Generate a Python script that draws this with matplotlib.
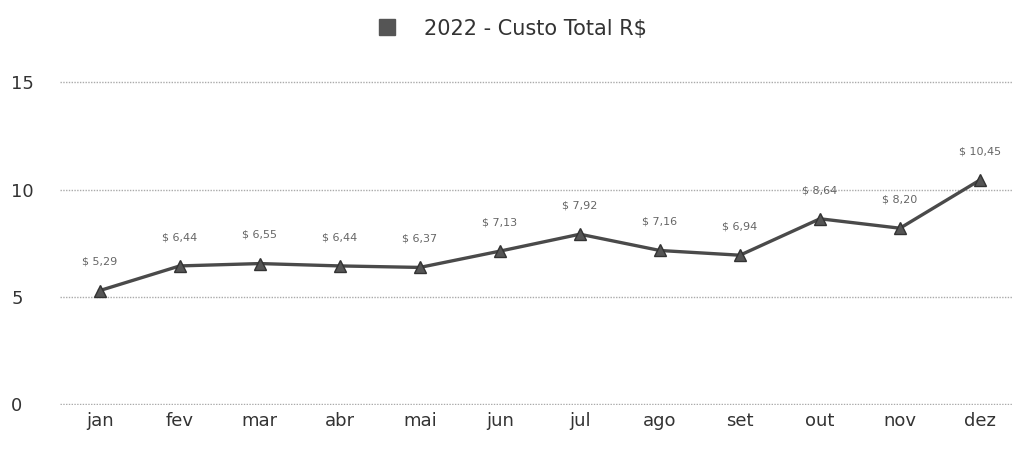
import matplotlib
matplotlib.use('Agg')
import matplotlib.pyplot as plt
from matplotlib.lines import Line2D

meses = ['jan', 'fev', 'mar', 'abr', 'mai', 'jun', 'jul', 'ago', 'set', 'out', 'nov', 'dez']
custo = [5.29, 6.44, 6.55, 6.44, 6.37, 7.13, 7.92, 7.16, 6.94, 8.64, 8.20, 10.45]
rotulos = ['$ 5,29', '$ 6,44', '$ 6,55', '$ 6,44', '$ 6,37', '$ 7,13', '$ 7,92',
           '$ 7,16', '$ 6,94', '$ 8,64', '$ 8,20', '$ 10,45']
yticks = [0, 5, 10, 15]

plt.rcParams['font.family'] = ['DejaVu Sans']

fig = plt.figure(figsize=(10.13, 4.49), dpi=100)
ax = fig.add_axes([0.059, 0.098, 0.94, 0.766])

x = list(range(len(meses)))
ax.plot(x, custo, color='#4a4a4a', linewidth=2.4, marker='^', markersize=9,
        markerfacecolor='#555555', markeredgecolor='#333333', zorder=3)

for xi, yi, txt in zip(x, custo, rotulos):
    ax.annotate(txt, (xi, yi), xytext=(0, 17), textcoords='offset points',
                ha='center', va='bottom', fontsize=8, color='#666666')

ax.set_xlim(-0.5, 11.4)
ax.set_ylim(-0.05, 16)
ax.set_xticks(x)
ax.set_xticklabels(meses, fontsize=13, color='#333333')
ax.set_yticks(yticks)
ax.set_yticklabels([str(v) for v in yticks], fontsize=13, color='#333333')
ax.tick_params(length=0, pad=5)
ax.tick_params(axis='y', pad=35)
for t in ax.get_yticklabels():
    t.set_horizontalalignment('left')

ax.grid(axis='y', color='#aaaaaa', linestyle=(0, (1, 1)), linewidth=1)
for s in ax.spines.values():
    s.set_visible(False)

handle = Line2D([], [], marker='s', linestyle='none', markersize=12,
                markerfacecolor='#555555', markeredgecolor='#555555')
fig.legend([handle], ['2022 - Custo Total R$'], loc='upper center',
           bbox_to_anchor=(0.5, 1.0), frameon=False, fontsize=15,
           handletextpad=0.8, labelcolor='#333333')

fig.savefig('out.png', dpi=100)
